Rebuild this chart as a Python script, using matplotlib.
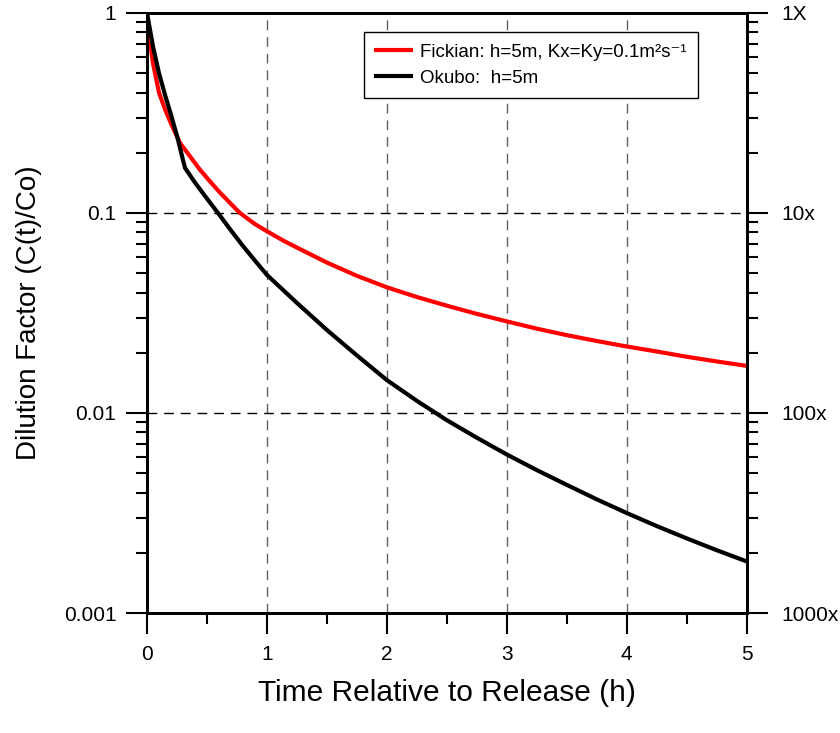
import matplotlib
matplotlib.use("Agg")
import matplotlib.pyplot as plt
from matplotlib.ticker import FixedLocator, FixedFormatter, LogLocator, NullFormatter

plt.rcParams['font.family'] = ['Liberation Sans', 'DejaVu Sans']

# values
fick_t = [0, 0.025, 0.05, 0.1, 0.15, 0.2, 0.275, 0.35, 0.44, 0.52, 0.6, 0.7, 0.775, 0.9, 1.0,
          1.15, 1.275, 1.5, 1.75, 2.0, 2.25, 2.5, 2.75, 3.0, 3.25, 3.5, 3.75, 4.0, 4.25, 4.5,
          4.75, 5.0]
fick_c = [1.0, 0.72, 0.56, 0.40, 0.33, 0.28, 0.224, 0.195, 0.165, 0.145, 0.128, 0.111, 0.1,
          0.088, 0.081, 0.072, 0.066, 0.0565, 0.0485, 0.0425, 0.038, 0.0344, 0.0313, 0.0287,
          0.0264, 0.0245, 0.0229, 0.0215, 0.0203, 0.0191, 0.0181, 0.0172]

oku_t = [0, 0.05, 0.1, 0.15, 0.2, 0.25, 0.3, 0.317, 0.4, 0.5, 0.6, 0.7, 0.8, 0.9, 1.0, 1.25,
         1.5, 1.75, 2.0, 2.25, 2.5, 2.75, 3.0, 3.25, 3.5, 3.75, 4.0, 4.25, 4.5, 4.75, 5.0]
oku_c = [1.0, 0.68, 0.50, 0.39, 0.31, 0.243, 0.184, 0.168, 0.142, 0.118, 0.0985, 0.0818,
         0.0684, 0.0578, 0.049, 0.0355, 0.026, 0.0194, 0.0146, 0.0115, 0.0092, 0.00752,
         0.0062, 0.00518, 0.00437, 0.0037, 0.00316, 0.00272, 0.00236, 0.00206, 0.00181]

left_ticks = [1, 0.1, 0.01, 0.001]
left_labels = ["1", "0.1", "0.01", "0.001"]
right_labels = ["1X", "10x", "100x", "1000x"]
x_ticks = [0, 1, 2, 3, 4, 5]
x_minor = [0.5, 1.5, 2.5, 3.5, 4.5]

fig = plt.figure(figsize=(8.4, 7.33), dpi=100)
ax = fig.add_axes([0.175, 0.1637, 0.714, 0.8186])

ax.plot(fick_t, fick_c, color='#ff0000', lw=3, label="Fickian: h=5m, Kx=Ky=0.1m²s⁻¹",
        solid_joinstyle='round', zorder=3)
ax.plot(oku_t, oku_c, color='black', lw=3, label="Okubo:  h=5m", solid_joinstyle='miter', zorder=3)

ax.set_yscale('log')
ax.set_xlim(0, 5)
ax.set_ylim(0.001, 1)

ax.xaxis.set_major_locator(FixedLocator(x_ticks))
ax.xaxis.set_minor_locator(FixedLocator(x_minor))
ax.yaxis.set_major_locator(FixedLocator(left_ticks))
ax.yaxis.set_major_formatter(FixedFormatter(left_labels))
ax.yaxis.set_minor_locator(LogLocator(base=10, subs=range(2, 10)))
ax.yaxis.set_minor_formatter(NullFormatter())

ax.xaxis.grid(True, which='major', color='#606060', lw=1, linestyle=(0, (7, 5)))
ax.yaxis.grid(True, which='major', color='black', lw=1, linestyle=(0, (7, 5)))

for s in ax.spines.values():
    s.set_linewidth(2)

ax.tick_params(which='major', direction='out', length=15, width=1.5, labelsize=15, pad=7)
ax.tick_params(which='minor', direction='out', length=8, width=1.5)
ax.tick_params(axis='x', which='both', top=False)
ax.tick_params(axis='x', which='major', pad=8)

ax2 = ax.twinx()
ax2.set_yscale('log')
ax2.set_ylim(0.001, 1)
ax2.yaxis.set_major_locator(FixedLocator(left_ticks))
ax2.yaxis.set_major_formatter(FixedFormatter(right_labels))
ax2.yaxis.set_minor_locator(LogLocator(base=10, subs=range(2, 10)))
ax2.yaxis.set_minor_formatter(NullFormatter())
ax2.tick_params(which='major', direction='out', length=15, width=1.5, labelsize=15, pad=10)
ax2.tick_params(which='minor', direction='out', length=8, width=1.5)
for s in ax2.spines.values():
    s.set_linewidth(2)

ax.set_xlabel("Time Relative to Release (h)", fontsize=21.5, labelpad=11)
ax.set_ylabel("Dilution Factor (C(t)/Co)", fontsize=20, labelpad=16)

leg = ax.legend(loc='upper right', bbox_to_anchor=(0.918, 0.968), borderaxespad=0,
                fontsize=13.5, fancybox=False, framealpha=1, edgecolor='black',
                handlelength=1.9, handletextpad=0.45, borderpad=0.6, labelspacing=0.5)
leg.get_frame().set_linewidth(1)
leg.set_zorder(5)

fig.savefig("out.png", dpi=100)
